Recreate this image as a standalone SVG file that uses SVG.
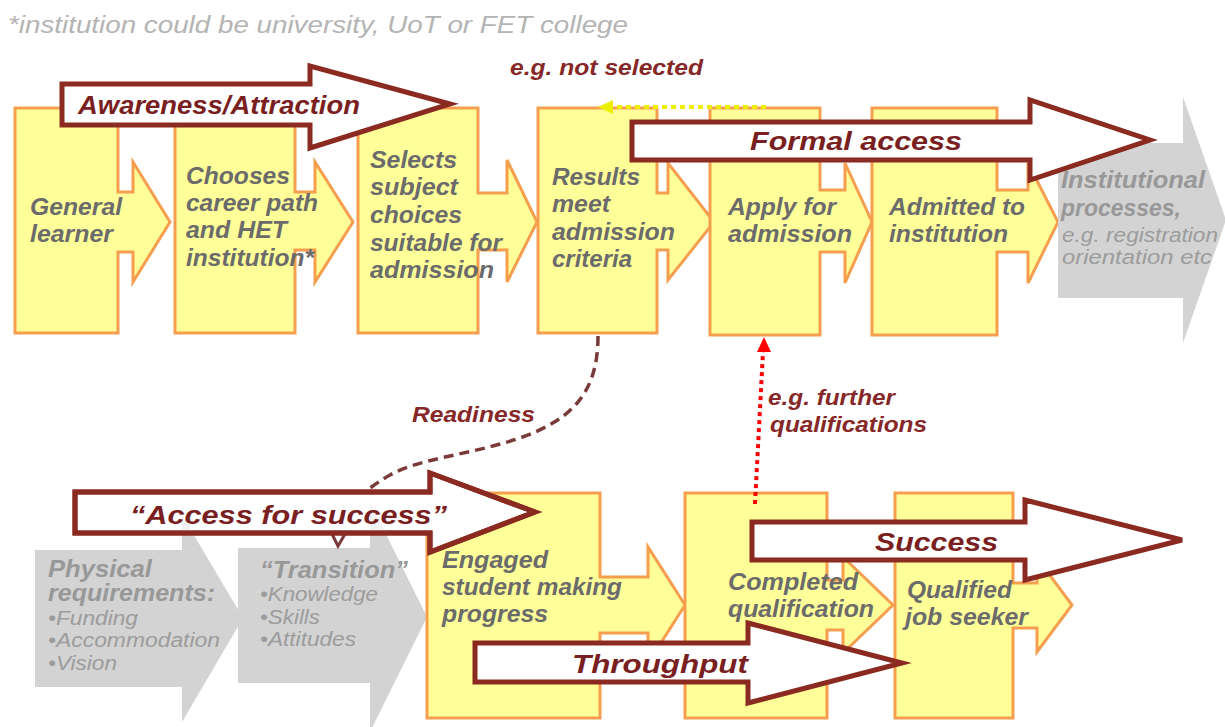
<svg xmlns="http://www.w3.org/2000/svg" xmlns:xlink="http://www.w3.org/1999/xlink" width="1225" height="727" viewBox="0 0 1225 727">
<style>
text{font-family:"Liberation Sans",Arial,sans-serif;font-style:italic}
.nt{font-size:23px;font-weight:bold;fill:#6b6b6b}
.gt{font-size:23px;font-weight:bold;fill:#989898}
.gs{font-size:20px;fill:#9c9c9c}
.yn{fill:#FFFF99;stroke:#F59E4E;stroke-width:3;stroke-linejoin:miter}
.gn{fill:#d3d3d3;stroke:none}
.ba{fill:#fff;stroke:#8B2A20;stroke-width:5;stroke-linejoin:miter}
.bl{font-size:26px;font-weight:bold;fill:#7A1F1F}
.cl{font-size:22px;font-weight:bold;fill:#862828}
</style>
<defs>
<clipPath id="accClip"><path d="M75,492H430V473L535,512L430,552V533H75Z"/></clipPath>
</defs>
<rect width="1225" height="727" fill="#fff"/>
<text x="8" y="33" font-size="24" fill="#b4b4b4" textLength="620" lengthAdjust="spacingAndGlyphs">*institution could be university, UoT or FET college</text>

<g id="n-general">
<path class="yn" d="M15,108H118V192H133V162L170,222L133,282V252H118V333H15Z"/>
<text class="nt" x="30" y="215" textLength="92" lengthAdjust="spacingAndGlyphs">General</text>
<text class="nt" x="30" y="242" textLength="83" lengthAdjust="spacingAndGlyphs">learner</text>
</g>
<g id="n-chooses">
<path class="yn" d="M175,108H295V192H315V162L353,222L315,282V250H295V333H175Z"/>
<text class="nt" x="186" y="184" textLength="104" lengthAdjust="spacingAndGlyphs">Chooses</text>
<text class="nt" x="186" y="211" textLength="132" lengthAdjust="spacingAndGlyphs">career path</text>
<text class="nt" x="186" y="238" textLength="101" lengthAdjust="spacingAndGlyphs">and HET</text>
<text class="nt" x="186" y="266" textLength="128" lengthAdjust="spacingAndGlyphs">institution*</text>
</g>
<g id="n-selects">
<path class="yn" d="M358,108H478V193H507V160L537,222L507,282V250H478V333H358Z"/>
<text class="nt" x="370" y="168" textLength="87" lengthAdjust="spacingAndGlyphs">Selects</text>
<text class="nt" x="370" y="195" textLength="88" lengthAdjust="spacingAndGlyphs">subject</text>
<text class="nt" x="370" y="223" textLength="92" lengthAdjust="spacingAndGlyphs">choices</text>
<text class="nt" x="370" y="251" textLength="132" lengthAdjust="spacingAndGlyphs">suitable for</text>
<text class="nt" x="370" y="278" textLength="124" lengthAdjust="spacingAndGlyphs">admission</text>
</g>
<g id="n-results">
<path class="yn" d="M538,108H657V193H668V163L714,222L668,280V250H657V333H538Z"/>
<text class="nt" x="552" y="185" textLength="88" lengthAdjust="spacingAndGlyphs">Results</text>
<text class="nt" x="552" y="212" textLength="58" lengthAdjust="spacingAndGlyphs">meet</text>
<text class="nt" x="552" y="240" textLength="123" lengthAdjust="spacingAndGlyphs">admission</text>
<text class="nt" x="552" y="267" textLength="80" lengthAdjust="spacingAndGlyphs">criteria</text>
</g>
<g id="n-apply">
<path class="yn" d="M710,108H820V190H845V163L872,222L845,283V252H820V335H710Z"/>
<text class="nt" x="728" y="215" textLength="108" lengthAdjust="spacingAndGlyphs">Apply for</text>
<text class="nt" x="728" y="242" textLength="124" lengthAdjust="spacingAndGlyphs">admission</text>
</g>
<g id="n-admitted">
<path class="yn" d="M872,108H997V190H1028V163L1058,222L1028,283V252H997V335H872Z"/>
<text class="nt" x="889" y="215" textLength="136" lengthAdjust="spacingAndGlyphs">Admitted to</text>
<text class="nt" x="889" y="242" textLength="119" lengthAdjust="spacingAndGlyphs">institution</text>
</g>
<g id="n-institutional">
<path class="gn" d="M1058,143H1183V97L1226,220L1183,343V298H1058Z"/>
<text class="gt" x="1061" y="188" textLength="144" lengthAdjust="spacingAndGlyphs">Institutional</text>
<text class="gt" x="1061" y="216" textLength="120" lengthAdjust="spacingAndGlyphs">processes,</text>
<text class="gs" x="1062" y="242" textLength="156" lengthAdjust="spacingAndGlyphs" fill="#8e8e8e">e.g. registration</text>
<text class="gs" x="1062" y="264" textLength="150" lengthAdjust="spacingAndGlyphs" fill="#8e8e8e">orientation etc</text>
</g>

<g id="a-awareness">
<path class="ba" d="M62,84H310V66L450,104L310,148V125H62Z"/>
<text class="bl" x="78" y="114" textLength="282" lengthAdjust="spacingAndGlyphs">Awareness/Attraction</text>
</g>
<g id="a-formal">
<path class="ba" d="M632,122H1030V100L1150,140L1030,180V160H632Z"/>
<text class="bl" x="750" y="150" textLength="212" lengthAdjust="spacingAndGlyphs">Formal access</text>
</g>

<g id="n-physical">
<path id="physShape" class="gn" d="M35,550H182V515L243,618L182,722V687H35Z"/>
<text class="gt" x="48" y="577" font-size="22" textLength="104" lengthAdjust="spacingAndGlyphs">Physical</text>
<text class="gt" x="48" y="601" font-size="22" textLength="167" lengthAdjust="spacingAndGlyphs">requirements:</text>
<text class="gs" x="48" y="625" textLength="90" lengthAdjust="spacingAndGlyphs">•Funding</text>
<text class="gs" x="48" y="647" textLength="172" lengthAdjust="spacingAndGlyphs">•Accommodation</text>
<text class="gs" x="48" y="670" textLength="69" lengthAdjust="spacingAndGlyphs">•Vision</text>
</g>
<g id="n-transition">
<path id="transShape" class="gn" d="M238,548H370V502L427,617L370,732V683H238Z"/>
<text class="gt" x="260" y="578" textLength="148" lengthAdjust="spacingAndGlyphs">“Transition”</text>
<text class="gs" x="260" y="601" textLength="118" lengthAdjust="spacingAndGlyphs">•Knowledge</text>
<text class="gs" x="260" y="624" textLength="60" lengthAdjust="spacingAndGlyphs">•Skills</text>
<text class="gs" x="260" y="646" textLength="96" lengthAdjust="spacingAndGlyphs">•Attitudes</text>
</g>
<g id="n-engaged">
<path class="yn" d="M427,493H600V577H648V547L685,605L648,663V633H600V718H427Z"/>
<text class="nt" x="442" y="568" textLength="106" lengthAdjust="spacingAndGlyphs">Engaged</text>
<text class="nt" x="442" y="595" textLength="180" lengthAdjust="spacingAndGlyphs">student making</text>
<text class="nt" x="442" y="622" textLength="106" lengthAdjust="spacingAndGlyphs">progress</text>
</g>
<g id="n-completed">
<path class="yn" d="M685,493H827V580H843V557L893,605L843,653V630H827V718H685Z"/>
<text class="nt" x="728" y="590" textLength="130" lengthAdjust="spacingAndGlyphs">Completed</text>
<text class="nt" x="728" y="617" textLength="146" lengthAdjust="spacingAndGlyphs">qualification</text>
</g>
<g id="n-qualified">
<path class="yn" d="M895,493H1013V583H1037V558L1072,605L1037,652V628H1013V718H895Z"/>
<text class="nt" x="907" y="598" textLength="105" lengthAdjust="spacingAndGlyphs">Qualified</text>
<text class="nt" x="905" y="625" textLength="123" lengthAdjust="spacingAndGlyphs">job seeker</text>
</g>

<g id="connectors">
<line x1="766" y1="107" x2="610" y2="107" stroke="#EEEE00" stroke-width="4" stroke-dasharray="5 4"/>
<path d="M598,107L613,100V114Z" fill="#EEEE00"/>
<text class="cl" x="510" y="75" textLength="193" lengthAdjust="spacingAndGlyphs">e.g. not selected</text>
<path d="M598,336C598,395 570,420 520,438C470,455 420,458 390,475C355,495 342,515 339,535" fill="none" stroke="#7B3A3A" stroke-width="3.5" stroke-dasharray="10 6"/>
<path d="M332,534L338,546L345,534" fill="none" stroke="#7B3A3A" stroke-width="3"/>
<text class="cl" x="412" y="422" textLength="123" lengthAdjust="spacingAndGlyphs">Readiness</text>
<line x1="755" y1="504" x2="763" y2="352" stroke="#FF0000" stroke-width="4" stroke-dasharray="4 4"/>
<path d="M764,337L771,352H757Z" fill="#FF0000"/>
<text class="cl" x="768" y="405" textLength="127" lengthAdjust="spacingAndGlyphs">e.g. further</text>
<text class="cl" x="770" y="432" textLength="157" lengthAdjust="spacingAndGlyphs">qualifications</text>
</g>

<g id="a-access">
<path class="ba" d="M75,492H430V473L535,512L430,552V533H75Z"/>
<g clip-path="url(#accClip)" opacity="0.3">
<use xlink:href="#physShape" href="#physShape"/>
<use xlink:href="#transShape" href="#transShape"/>
</g>
<path d="M75,492H430V473L535,512L430,552V533H75Z" fill="none" stroke="#8B2A20" stroke-width="5"/>
<text class="bl" x="130" y="524" textLength="317" lengthAdjust="spacingAndGlyphs">“Access for success”</text>
</g>
<g id="a-success">
<path class="ba" d="M752,522H1025V500L1182,540L1025,580V560H752Z"/>
<text class="bl" x="875" y="551" textLength="123" lengthAdjust="spacingAndGlyphs">Success</text>
</g>
<g id="a-throughput">
<path class="ba" d="M475,643H748V623L902,663L748,703V682H475Z"/>
<text class="bl" x="572" y="673" textLength="176" lengthAdjust="spacingAndGlyphs">Throughput</text>
</g>
</svg>
